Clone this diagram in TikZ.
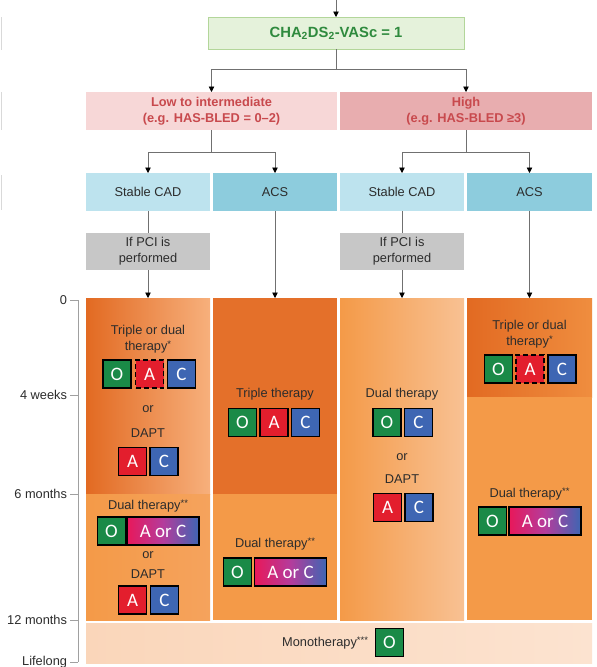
\documentclass[tikz,border=0pt]{standalone}
\usepackage{fontspec}
\setmainfont{Liberation Sans}
\newfontfamily\pillfont{Carlito}
\usetikzlibrary{arrows.meta}
\definecolor{txt}{HTML}{2C2C2C}
\definecolor{grnfill}{HTML}{E5F2DB}
\definecolor{grnline}{HTML}{B3D69A}
\definecolor{grntxt}{HTML}{2F8A3E}
\definecolor{pinkA}{HTML}{F7D7D7}
\definecolor{pinkB}{HTML}{E8ADAF}
\definecolor{pinktxt}{HTML}{C8494D}
\definecolor{blueA}{HTML}{BDE3EE}
\definecolor{blueB}{HTML}{8DCCDD}
\definecolor{pcigray}{HTML}{C7C7C7}
\definecolor{orDark}{HTML}{E4702A}
\definecolor{orDarkL}{HTML}{E26A22}
\definecolor{orMid}{HTML}{F49A48}
\definecolor{orLight}{HTML}{F8C193}
\definecolor{orPale}{HTML}{F7B07C}
\definecolor{monoA}{HTML}{FAD6BA}
\definecolor{monoB}{HTML}{FCE3D0}
\definecolor{pO}{HTML}{1A8A47}
\definecolor{pA}{HTML}{E31E2D}
\definecolor{pC}{HTML}{3E66B3}
\definecolor{pAC}{HTML}{E8185A}
\definecolor{pMid}{HTML}{B43C9C}
\definecolor{axgray}{HTML}{A0A0A0}
\definecolor{conngray}{HTML}{707070}
\newcommand\bodyfs{\fontsize{12.8}{16}\selectfont}
\newcommand\pillfs{\pillfont\fontsize{19}{20}\selectfont}
\newcommand\stars[1]{\raisebox{0.45ex}{\fontsize{9.5}{10}\selectfont #1}}
\begin{document}
\begin{tikzpicture}[x=1pt,y=-1pt,
  base/.style={inner sep=0pt, outer sep=0pt, align=center, font=\bodyfs, text=txt},
  boxnode/.style={base, minimum height=#1},
  lbl/.style={base},
  pill/.style={draw=black, line width=1.6pt, minimum width=28pt, minimum height=28pt,
    inner sep=0pt, outer sep=0pt, text=white, font=\pillfs},
  pillO/.style={pill, fill=pO},
  pillA/.style={pill, fill=pA},
  pillC/.style={pill, fill=pC},
  pillAd/.style={pill, fill=pA, dash pattern=on 5pt off 3pt},
  pillAC/.style={pill, minimum width=72pt, left color=pAC, right color=pC, middle color=pMid},
  conn/.style={draw=conngray, line width=0.7pt},
  arr/.style={conn, -{Triangle[width=5.5pt,length=5.5pt,color=black]}},
  axis/.style={draw=axgray, line width=0.8pt},
  axlab/.style={base, anchor=east}
]
\useasboundingbox[fill=white] (0,0) rectangle (597,667);

% faint cropped marks at the left edge
\draw[draw=black!15, line width=1pt] (1,17) -- (1,50);
\draw[draw=black!15, line width=1pt] (1,92) -- (1,130);
\draw[draw=black!15, line width=1pt] (1,175) -- (1,210);

% top level
\node[boxnode=32pt, minimum width=256pt, fill=grnfill, draw=grnline, line width=0.8pt,
  font=\fontsize{14.8}{16}\selectfont\bfseries, text=grntxt] (cha) at (336,33)
  {CHA\textsubscript{2}DS\textsubscript{2}-VASc = 1};
\node[boxnode=38pt, minimum width=251pt, fill=pinkA, font=\fontsize{12.8}{16}\selectfont\bfseries, text=pinktxt]
  (low) at (211.5,111) {Low to intermediate\\(e.g. HAS-BLED = 0--2)};
\node[boxnode=38pt, minimum width=252pt, fill=pinkB, font=\fontsize{12.8}{16}\selectfont\bfseries, text=pinktxt]
  (high) at (466,111) {High\\(e.g. HAS-BLED ≥3)};

\node[boxnode=38pt, minimum width=124pt, fill=blueA] (s1) at (148,192) {Stable CAD};
\node[boxnode=38pt, minimum width=124pt, fill=blueB] (a1) at (275,192) {ACS};
\node[boxnode=38pt, minimum width=124pt, fill=blueA] (s3) at (402,192) {Stable CAD};
\node[boxnode=38pt, minimum width=125pt, fill=blueB] (a4) at (529.5,192) {ACS};

\node[boxnode=37pt, minimum width=124pt, fill=pcigray] (p1) at (148,251.5) {If PCI is\\performed};
\node[boxnode=37pt, minimum width=124pt, fill=pcigray] (p3) at (402,251.5) {If PCI is\\performed};

% orange time blocks
\node[boxnode=196pt, minimum width=124pt, left color=orDarkL, right color=orPale] (o1u) at (148,396) {};
\node[boxnode=126pt, minimum width=124pt, left color=orMid, right color=orMid!60!orPale] (o1l) at (148,557) {};
\node[boxnode=196pt, minimum width=124pt, fill=orDark] (o2u) at (275,396) {};
\node[boxnode=126pt, minimum width=124pt, fill=orMid] (o2l) at (275,557) {};
\node[boxnode=322pt, minimum width=124pt, left color=orMid, right color=orLight] (o3) at (402,459) {};
\node[boxnode=99pt, minimum width=125pt, left color=orDarkL, right color=orMid!70!orDark] (o4u) at (529.5,347.5) {};
\node[boxnode=223pt, minimum width=125pt, fill=orMid] (o4l) at (529.5,508.5) {};
\node[boxnode=40pt, minimum width=506pt, left color=monoA, right color=monoB] (mono) at (339,643) {};

% connectors
\coordinate (top) at (336,0);
\draw[arr] (top) -- (cha);
\coordinate (j1) at (336,69);
\draw[conn] (cha.south) -- (j1);
\draw[arr] (j1) -| (low.north);
\draw[arr] (j1) -| (high.north);
\coordinate (j2) at (211.5,152);
\draw[conn] (low.south) -- (j2);
\draw[arr] (j2) -| (s1.north);
\draw[arr] (j2) -| (a1.north);
\coordinate (j3) at (466,152);
\draw[conn] (high.south) -- (j3);
\draw[arr] (j3) -| (s3.north);
\draw[arr] (j3) -| (a4.north);
\draw[conn] (s1) -- (p1);
\draw[arr] (p1) -- (o1u);
\draw[arr] (a1) -- (o2u);
\draw[conn] (s3) -- (p3);
\draw[arr] (p3) -- (o3);
\draw[arr] (a4) -- (o4u);

% column 1 upper
\node[lbl] (c1t) at (148,339) {Triple or dual\\therapy\stars{*}};
\node[pillO] (c1o) at (117,374) {O};
\node[pillAd] (c1a) at (149.5,374) {A};
\node[pillC] (c1c) at (181.5,374) {C};
\node[lbl] (c1or) at (148,409) {or};
\node[lbl] (c1d) at (148,433) {DAPT};
\node[pillA] (c1da) at (132.5,461.5) {A};
\node[pillC] (c1dc) at (164,461.5) {C};
% column 1 lower
\node[lbl] (c1lt) at (148,506) {Dual therapy\stars{**}};
\node[pillO] (c1lo) at (111.5,531) {O};
\node[pillAC] (c1lac) at (163,531) {A or C};
\node[lbl] (c1lor) at (148,555) {or};
\node[lbl] (c1ld) at (148,574) {DAPT};
\node[pillA] (c1la) at (132.5,600) {A};
\node[pillC] (c1lc) at (164.5,600) {C};
% column 2
\node[lbl] (c2t) at (275,394) {Triple therapy};
\node[pillO] (c2o) at (242.5,422.5) {O};
\node[pillA] (c2a) at (274,422.5) {A};
\node[pillC] (c2c) at (305.5,422.5) {C};
\node[lbl] (c2lt) at (275,544) {Dual therapy\stars{**}};
\node[pillO] (c2lo) at (237.5,572) {O};
\node[pillAC] (c2lac) at (290.5,572) {A or C};
% column 3
\node[lbl] (c3t) at (402,394) {Dual therapy};
\node[pillO] (c3o) at (387,422.5) {O};
\node[pillC] (c3c) at (418.5,422.5) {C};
\node[lbl] (c3or) at (402,457) {or};
\node[lbl] (c3d) at (402,479) {DAPT};
\node[pillA] (c3a) at (387.5,507.5) {A};
\node[pillC] (c3c2) at (419,507.5) {C};
% column 4
\node[lbl] (c4t) at (529.5,334) {Triple or dual\\therapy\stars{*}};
\node[pillO] (c4o) at (498.5,369) {O};
\node[pillAd] (c4a) at (530,369) {A};
\node[pillC] (c4c) at (562,369) {C};
\node[lbl] (c4lt) at (529.5,494) {Dual therapy\stars{**}};
\node[pillO] (c4lo) at (492.5,521) {O};
\node[pillAC] (c4lac) at (545,521) {A or C};
% monotherapy
\node[lbl, anchor=east] (mt) at (368,643) {Monotherapy\stars{***}};
\node[pillO] (mo) at (389.5,642.5) {O};

% time axis
\draw[axis] (78,300) -- (78,662);
\node[axlab] (t0) at (67,300) {0};
\node[axlab] (t1) at (67,395) {4 weeks};
\node[axlab] (t2) at (67,494) {6 months};
\node[axlab] (t3) at (67,620) {12 months};
\node[axlab] (t4) at (67,662) {Lifelong};
\foreach \yy in {300,395,494,620,662} \draw[axis] (70,\yy) -- (78,\yy);
\end{tikzpicture}
\end{document}
